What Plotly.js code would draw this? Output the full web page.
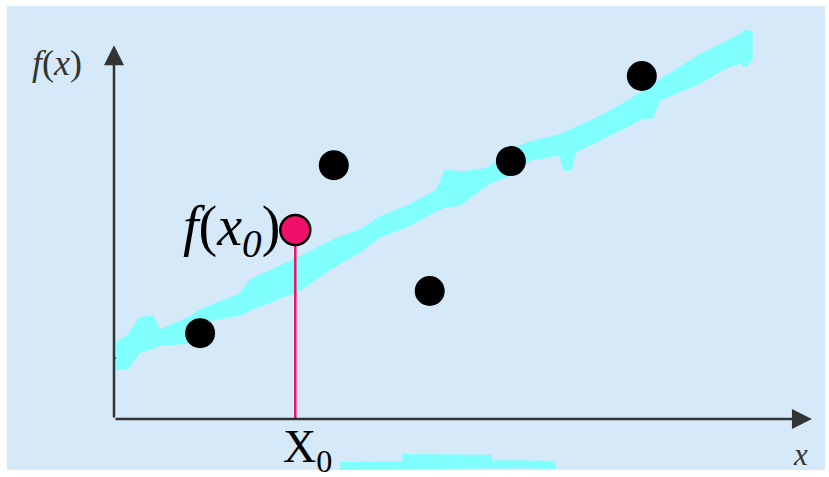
<!DOCTYPE html>
<html>
<head>
<meta charset="utf-8">
<script src="https://cdn.plot.ly/plotly-3.0.1.min.js"></script>
<style>
  html, body { margin: 0; padding: 0; background: #fff; }
  #myDiv { width: 829px; height: 477px; }
</style>
</head>
<body>
<div id="myDiv"></div>
<script>
// data points (sample values)
var ptX = [1.23, 3.14, 4.51, 5.67, 7.54];
var ptY = [2.32, 6.86, 3.46, 6.97, 9.27];

// interpolated point x0, f(x0)
var x0 = [2.59];
var fx0 = [5.11];

// hand drawn fit band: upper edge left to right, then lower edge right to left
var bandX = [0.029, 0.2, 0.371, 0.557, 0.657, 1.086, 1.229, 1.8, 1.943, 2.657, 3.129, 3.514, 3.8, 4.229,
             4.614, 4.729, 4.943, 5.229, 5.371, 5.657, 5.943, 6.371, 6.586, 6.943, 7.371, 7.8, 8.371,
             8.729, 8.943, 9.014, 9.114,
             9.114, 9.014, 8.943, 8.729, 8.371, 7.8, 7.686, 7.543, 7.371, 6.943, 6.586, 6.529, 6.429,
             6.371, 5.943, 5.657, 5.371, 5.229, 4.943, 4.729, 4.614, 4.229, 3.8, 3.514, 3.129, 2.657,
             1.943, 1.8, 1.229, 1.086, 0.657, 0.557, 0.371, 0.2, 0.029];
var bandY = [2.054, 2.27, 2.73, 2.784, 2.405, 2.757, 2.946, 3.378, 3.757, 4.378, 4.838, 5.108, 5.459, 5.784,
             6.189, 6.73, 6.676, 6.73, 6.811, 7.27, 7.486, 7.676, 7.865, 8.162, 8.622, 9.162, 9.838,
             10.189, 10.378, 10.514, 10.459,
             9.703, 9.514, 9.622, 9.486, 9.081, 8.622, 8.135, 8.135, 7.946, 7.541, 7.216, 6.73, 6.73,
             7.135, 7.0, 6.595, 6.378, 6.189, 5.784, 5.73, 5.649, 5.243, 4.919, 4.514, 4.108, 3.486,
             2.946, 2.811, 2.622, 2.054, 2.0, 1.919, 1.811, 1.378, 1.324];

// the fit line under the drawing
var fitX = [0, 9.0];
var fitY = [1.62, 10.1];

// scribble under the x axis
var scribX = [3.23, 3.9, 4.5, 5.2, 5.8, 6.31];
var scribY = [-1.27, -1.25, -1.22, -1.2, -1.22, -1.24];
var scribThickX = [4.12, 4.6, 5.05, 5.4];
var scribThickY = [-1.12, -1.1, -1.08, -1.14];

var cyan = "#80ffff";
var red = "#f0106a";

var data = [
  {x: fitX, y: fitY, mode: "lines", line: {color: "#333", width: 1.2, dash: "dot"}, hoverinfo: "skip"},
  {x: bandX, y: bandY, mode: "lines", fill: "toself", fillcolor: cyan,
   line: {color: cyan, width: 1.5}, hoverinfo: "skip"},
  {x: scribX, y: scribY, mode: "lines", line: {color: cyan, width: 8}, hoverinfo: "skip"},
  {x: scribThickX, y: scribThickY, mode: "lines", line: {color: cyan, width: 13}, hoverinfo: "skip"},
  {x: [x0[0], x0[0]], y: [0, fx0[0]], mode: "lines", line: {color: red, width: 2.5}, hoverinfo: "skip"},
  {x: ptX, y: ptY, mode: "markers", marker: {color: "#000", size: 30}, cliponaxis: false},
  {x: x0, y: fx0, mode: "markers", marker: {color: red, size: 30, line: {color: "#000", width: 2.5}}, cliponaxis: false}
];

var serif = "Liberation Serif, Times New Roman, serif";
var axisColor = "#333";

var layout = {
  width: 829,
  height: 477,
  margin: {l: 7, r: 4, t: 6, b: 7},
  paper_bgcolor: "#fff",
  plot_bgcolor: "#d5e9f9",
  showlegend: false,
  xaxis: {range: [-1.5286, 10.157], visible: false},
  yaxis: {range: [-1.378, 11.162], visible: false},
  annotations: [
    // axes arrows
    {x: 9.97, y: 0, ax: 0, ay: 0, xref: "x", yref: "y", axref: "x", ayref: "y",
     showarrow: true, arrowhead: 2, arrowsize: 1.6, arrowwidth: 2.5, arrowcolor: axisColor, text: ""},
    {x: 0, y: 10.1, ax: 0, ay: 0, xref: "x", yref: "y", axref: "x", ayref: "y",
     showarrow: true, arrowhead: 2, arrowsize: 1.6, arrowwidth: 2.5, arrowcolor: axisColor, text: ""},
    // labels
    {x: -0.81, y: 9.62, xref: "x", yref: "y", showarrow: false,
     text: "<i>f</i>(<i>x</i>)", font: {family: serif, size: 36, color: "#333"}},
    {x: 2.4, y: 5.11, xref: "x", yref: "y", xanchor: "right", showarrow: false,
     text: "<i>f</i>(<i>x<sub>0</sub></i>)", font: {family: serif, size: 56, color: "#000"}},
    {x: 2.38, y: -0.85, xref: "x", yref: "y", xanchor: "left", showarrow: false,
     text: "X<sub>0</sub>", font: {family: serif, size: 46, color: "#000"}},
    {x: 9.8, y: -0.97, xref: "x", yref: "y", showarrow: false,
     text: "<i>x</i>", font: {family: serif, size: 31, color: "#333"}}
  ]
};

Plotly.newPlot("myDiv", data, layout, {displayModeBar: false, staticPlot: true});
</script>
</body>
</html>
